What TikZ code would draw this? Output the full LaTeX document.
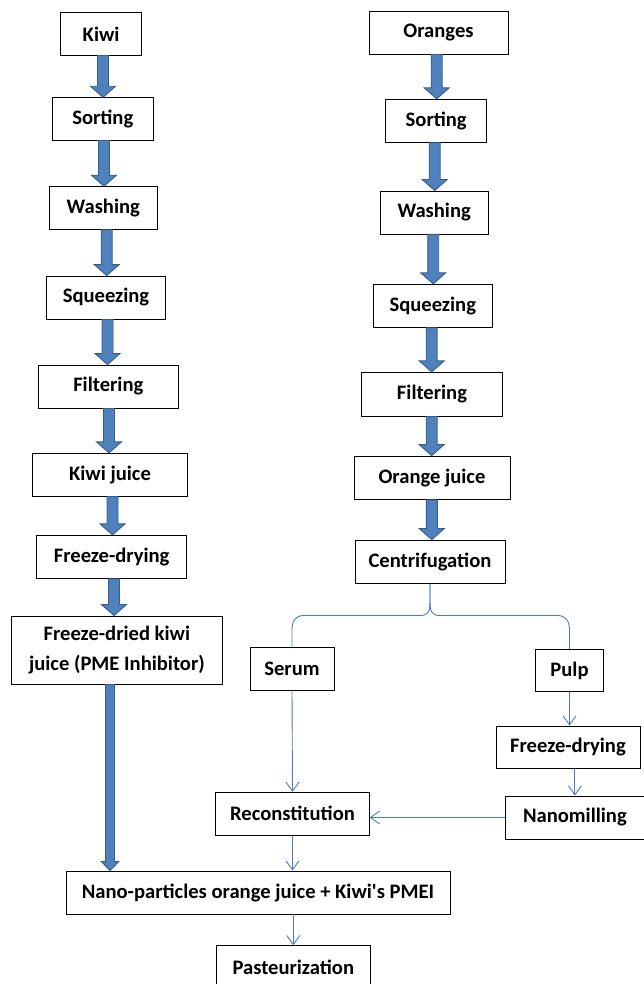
\documentclass[tikz,border=0pt]{standalone}
\usepackage{fontspec}
\setmainfont{Carlito}[Ligatures=TeXOff]
\usetikzlibrary{arrows.meta,calc}
\definecolor{arrowblue}{HTML}{4F81BD}
\definecolor{arrowdark}{HTML}{385D8A}
\definecolor{linkblue}{HTML}{4A7EBB}
\tikzset{
  box/.style={draw=black, line width=0.9pt, fill=white, inner sep=0pt, align=center,
    font=\fontsize{20.6}{30}\selectfont\bfseries},
  blockarrow/.style={draw=arrowdark, fill=arrowblue, line width=0.9pt, line join=miter},
  conn/.style={draw=linkblue, line width=0.9pt},
  carrow/.style={conn, -{Straight Barb[length=9pt,width=13pt,line width=0.9pt]}},
}
\newcommand\barrowfull[6]{%
  \path[blockarrow] let \p1=(#1.south), \p2=(#2.north) in
  ({(#3-#4)*1pt},\y1) -- ({(#3+#4)*1pt},\y1) -- ({(#3+#4)*1pt},{\y2+#6*1pt})
  -- ({(#3+#5)*1pt},{\y2+#6*1pt}) -- ({#3*1pt},\y2) -- ({(#3-#5)*1pt},{\y2+#6*1pt})
  -- ({(#3-#4)*1pt},{\y2+#6*1pt}) -- cycle;}
\newcommand\blockarr[3]{\barrowfull{#1}{#2}{#3}{5.5}{12.5}{11}}
\begin{document}
\begin{tikzpicture}[x=1pt,y=-1pt]
\useasboundingbox (0,0) rectangle (644,984);
\clip (0,0) rectangle (644,984);
% left column
\node[box, minimum width=81.2, minimum height=42.3] (kiwi) at (101.1,33.9) {Kiwi};
\node[box, minimum width=101, minimum height=42.3] (sortL) at (102.8,118.9) {Sorting};
\node[box, minimum width=108, minimum height=42.6] (washL) at (103.3,208) {Washing};
\node[box, minimum width=118.6, minimum height=43] (squeezeL) at (106,297.5) {Squeezing};
\node[box, minimum width=140, minimum height=43] (filterL) at (108.3,386.5) {Filtering};
\node[box, minimum width=155.4, minimum height=42.7] (kjuice) at (110,474.7) {Kiwi juice};
\node[box, minimum width=150, minimum height=43] (fdL) at (111.7,556.8) {Freeze-drying};
\node[box, minimum width=211.7, minimum height=68] (fdk) at (116.9,650) {Freeze-dried kiwi\\juice (PME Inhibitor)};
\node[box, minimum width=384, minimum height=43] (np) at (258,892.5) {Nano-particles orange juice + Kiwi's PMEI};
\node[box, minimum width=153.3, minimum height=43] (past) at (293.3,967.2) {Pasteurization};
% right column
\node[box, minimum width=139, minimum height=42.3] (oranges) at (438.5,32.9) {Oranges};
\node[box, minimum width=101, minimum height=43] (sortR) at (436.2,120.8) {Sorting};
\node[box, minimum width=108.3, minimum height=43] (washR) at (434.2,212.5) {Washing};
\node[box, minimum width=119, minimum height=43] (squeezeR) at (432.8,305.8) {Squeezing};
\node[box, minimum width=140.6, minimum height=43.7] (filterR) at (432,394.2) {Filtering};
\node[box, minimum width=156, minimum height=43.3] (ojuice) at (432,477.7) {Orange juice};
\node[box, minimum width=150, minimum height=43.3] (cent) at (430,561.7) {Centrifugation};
\node[box, minimum width=84, minimum height=43] (serum) at (292,668.5) {Serum};
\node[box, minimum width=67.6, minimum height=42.4] (pulp) at (569.5,670.5) {Pulp};
\node[box, minimum width=144, minimum height=42.5] (fdR) at (568,747.3) {Freeze-drying};
\node[box, minimum width=138.3, minimum height=43] (nanom) at (574.9,817.5) {Nanomilling};
\node[box, minimum width=153.6, minimum height=42.7] (recon) at (292.5,813.7) {Reconstitution};
% block arrows left
\blockarr{kiwi}{sortL}{103}
\blockarr{sortL}{washL}{104}
\blockarr{washL}{squeezeL}{106.7}
\blockarr{squeezeL}{filterL}{107.5}
\blockarr{filterL}{kjuice}{109}
\blockarr{kjuice}{fdL}{112.5}
\blockarr{fdL}{fdk}{114}
\barrowfull{fdk}{np}{110}{4.5}{8.7}{9}
% block arrows right
\blockarr{oranges}{sortR}{436.7}
\blockarr{sortR}{washR}{434.7}
\blockarr{washR}{squeezeR}{433.2}
\blockarr{squeezeR}{filterR}{431.7}
\blockarr{filterR}{ojuice}{431.7}
\blockarr{ojuice}{cent}{431.8}
% brace from centrifugation
\draw[conn] (cent.south) -- (430,601) .. controls (430,612) and (428,615.5) .. (420,615.5)
  -- (304,615.5) .. controls (296,615.5) and (292,620) .. (292,630) -- (serum.north);
\draw[conn] (cent.south) -- (430,601) .. controls (430,612) and (432,615.5) .. (440,615.5)
  -- (557,615.5) .. controls (565,615.5) and (569.5,620) .. (569.5,630) -- (pulp.north);
% thin arrows
\draw[carrow] (serum.south) -- (recon.north);
\draw[carrow] (pulp.south) -- (pulp.south |- fdR.north);
\draw[carrow] (nanom.north |- fdR.south) -- (nanom.north);
\draw[carrow] (nanom.west) -- (recon.east |- nanom.west);
\draw[carrow] (recon.south) -- (recon.south |- np.north);
\draw[carrow] (past.north |- np.south) -- (past.north);
\end{tikzpicture}
\end{document}
